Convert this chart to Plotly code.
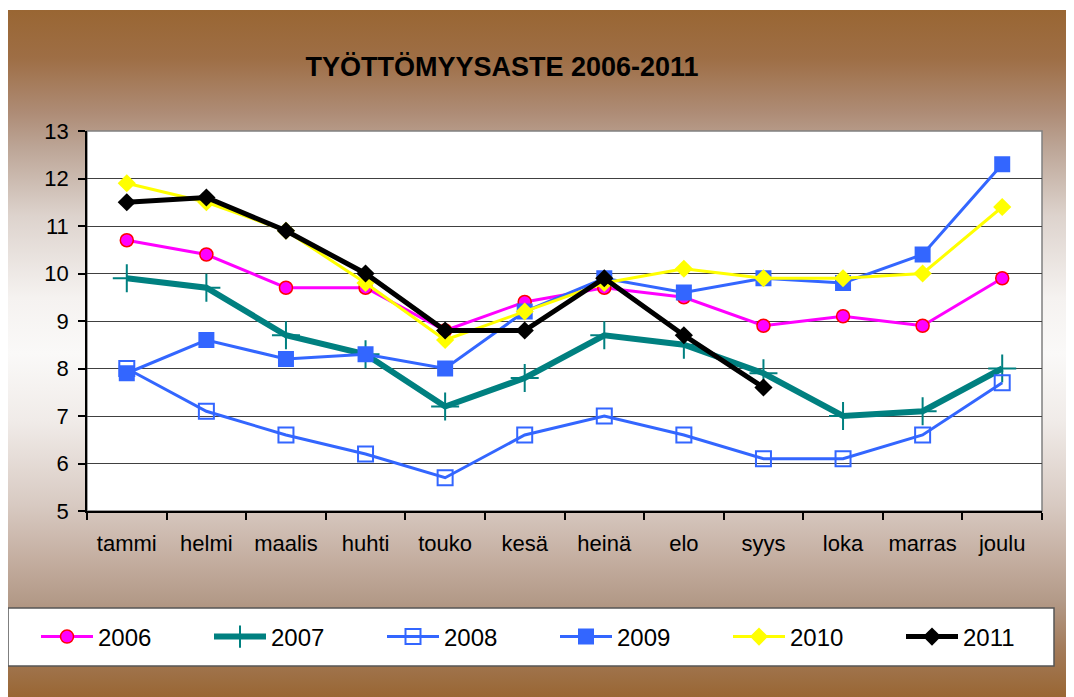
import base64
import plotly.graph_objects as go

months = ["tammi", "helmi", "maalis", "huhti", "touko", "kesä", "heinä", "elo", "syys", "loka", "marras", "joulu"]
y2006 = [10.7, 10.4, 9.7, 9.7, 8.8, 9.4, 9.7, 9.5, 8.9, 9.1, 8.9, 9.9]
y2007 = [9.9, 9.7, 8.7, 8.3, 7.2, 7.8, 8.7, 8.5, 7.9, 7.0, 7.1, 8.0]
y2008 = [8.0, 7.1, 6.6, 6.2, 5.7, 6.6, 7.0, 6.6, 6.1, 6.1, 6.6, 7.7]
y2009 = [7.9, 8.6, 8.2, 8.3, 8.0, 9.2, 9.9, 9.6, 9.9, 9.8, 10.4, 12.3]
y2010 = [11.9, 11.5, 10.9, 9.8, 8.6, 9.2, 9.8, 10.1, 9.9, 9.9, 10.0, 11.4]
y2011 = [11.5, 11.6, 10.9, 10.0, 8.8, 8.8, 9.9, 8.7, 7.6, None, None, None]
title_text = "TYÖTTÖMYYSASTE 2006-2011"

FONT = "Arial, Liberation Sans, sans-serif"
OFF = 8  # page body margin
W, H = 1074 - OFF, 697 - OFF
L, R, T, B = 87 - OFF, 1042 - OFF, 131 - OFF, 511 - OFF
PW, PH = R - L, B - T


def px_x(page_x):
    return (page_x - OFF - L) / PW


def px_y(page_y):
    return (B - (page_y - OFF)) / PH


fig = go.Figure()
fig.add_trace(go.Scatter(x=months, y=y2006, name="2006", mode="lines+markers",
                         line=dict(color="#FF00FF", width=3),
                         marker=dict(symbol="circle", size=13, color="#FF00FF",
                                     line=dict(color="#FF0000", width=1.5))))
fig.add_trace(go.Scatter(x=months, y=y2007, name="2007", mode="lines+markers",
                         line=dict(color="#008080", width=6),
                         marker=dict(symbol="cross-thin", size=20, color="#008080",
                                     line=dict(color="#008080", width=2))))
fig.add_trace(go.Scatter(x=months, y=y2008, name="2008", mode="lines+markers",
                         line=dict(color="#3366FF", width=3),
                         marker=dict(symbol="square-open", size=15, color="#3366FF",
                                     line=dict(color="#3366FF", width=2))))
fig.add_trace(go.Scatter(x=months, y=y2009, name="2009", mode="lines+markers",
                         line=dict(color="#3366FF", width=3),
                         marker=dict(symbol="square", size=16, color="#3366FF")))
fig.add_trace(go.Scatter(x=months, y=y2010, name="2010", mode="lines+markers",
                         line=dict(color="#FFFF00", width=3),
                         marker=dict(symbol="diamond", size=14, color="#FFFF00")))
fig.add_trace(go.Scatter(x=months, y=y2011, name="2011", mode="lines+markers",
                         line=dict(color="#000000", width=5),
                         marker=dict(symbol="diamond", size=14, color="#000000")))

# gradient background as svg image
svg = (
    "<svg xmlns='http://www.w3.org/2000/svg' width='1066' height='687' viewBox='0 0 1066 687' preserveAspectRatio='none'>"
    "<defs><linearGradient id='g' x1='0' y1='0' x2='0' y2='1'>"
    "<stop offset='0' stop-color='#996633'/>"
    "<stop offset='0.07' stop-color='#9E6E45'/>"
    "<stop offset='0.15' stop-color='#AE8C76'/>"
    "<stop offset='0.2' stop-color='#BCA596'/>"
    "<stop offset='0.3' stop-color='#DDD3CD'/>"
    "<stop offset='0.42' stop-color='#F5F2F0'/>"
    "<stop offset='0.5' stop-color='#FAF9F8'/>"
    "<stop offset='0.6' stop-color='#F0EBE8'/>"
    "<stop offset='0.72' stop-color='#D8CAC2'/>"
    "<stop offset='0.8' stop-color='#C4AEA0'/>"
    "<stop offset='0.86' stop-color='#B39A88'/>"
    "<stop offset='0.93' stop-color='#A37B5A'/>"
    "<stop offset='1' stop-color='#996633'/>"
    "</linearGradient></defs><rect x='0' y='0' width='1066' height='687' fill='url(#g)'/></svg>"
)
src = "data:image/svg+xml;base64," + base64.b64encode(svg.encode()).decode()

fig.add_layout_image(dict(source=src, xref="paper", yref="paper",
                          x=px_x(8), y=px_y(10), sizex=1066 / PW, sizey=687 / PH,
                          xanchor="left", yanchor="top", sizing="stretch", layer="below"))

shapes = [
    dict(type="rect", xref="paper", yref="paper", x0=0, x1=1, y0=0, y1=1,
         fillcolor="white", line=dict(color="#808080", width=1.5), layer="below"),
    dict(type="rect", xref="paper", yref="paper", x0=px_x(8), x1=px_x(1054),
         y0=px_y(666), y1=px_y(608),
         fillcolor="white", line=dict(color="#555555", width=1.5), layer="below"),
]

fig.update_layout(
    width=W, height=H,
    margin=dict(l=L, r=W - R, t=T, b=H - B, autoexpand=False),
    paper_bgcolor="white",
    plot_bgcolor="rgba(0,0,0,0)",
    font=dict(family=FONT, color="black"),
    title=dict(text="<b>" + title_text + "</b>", x=(502 - OFF) / W, xref="container", xanchor="center",
               y=1 - (67 - OFF) / H, yref="container", yanchor="middle",
               font=dict(family=FONT, size=27, color="black")),
    shapes=shapes,
    showlegend=True,
    legend=dict(orientation="h", x=px_x(36), xanchor="left", y=px_y(637), yanchor="middle",
                bgcolor="rgba(0,0,0,0)", borderwidth=0, font=dict(family=FONT, size=24, color="black"),
                itemwidth=52, entrywidth=106, entrywidthmode="pixels", traceorder="normal"),
    xaxis=dict(type="category", categoryorder="array", categoryarray=months,
               range=[-0.5, 11.5], showgrid=False, zeroline=False,
               showline=True, linecolor="black", linewidth=1.5,
               ticks="outside", tickson="boundaries", ticklen=7, tickcolor="black", tickwidth=1.5,
               tickfont=dict(family=FONT, size=22, color="black"), ticklabelstandoff=12),
    yaxis=dict(range=[5, 13], dtick=1, tick0=5, showgrid=True, gridcolor="#404040", gridwidth=1,
               zeroline=False, showline=True, linecolor="black", linewidth=1.5,
               ticks="outside", ticklen=7, tickcolor="black", tickwidth=1.5,
               tickfont=dict(family=FONT, size=22, color="black"), ticklabelstandoff=5),
)

fig.write_html("out.html")
